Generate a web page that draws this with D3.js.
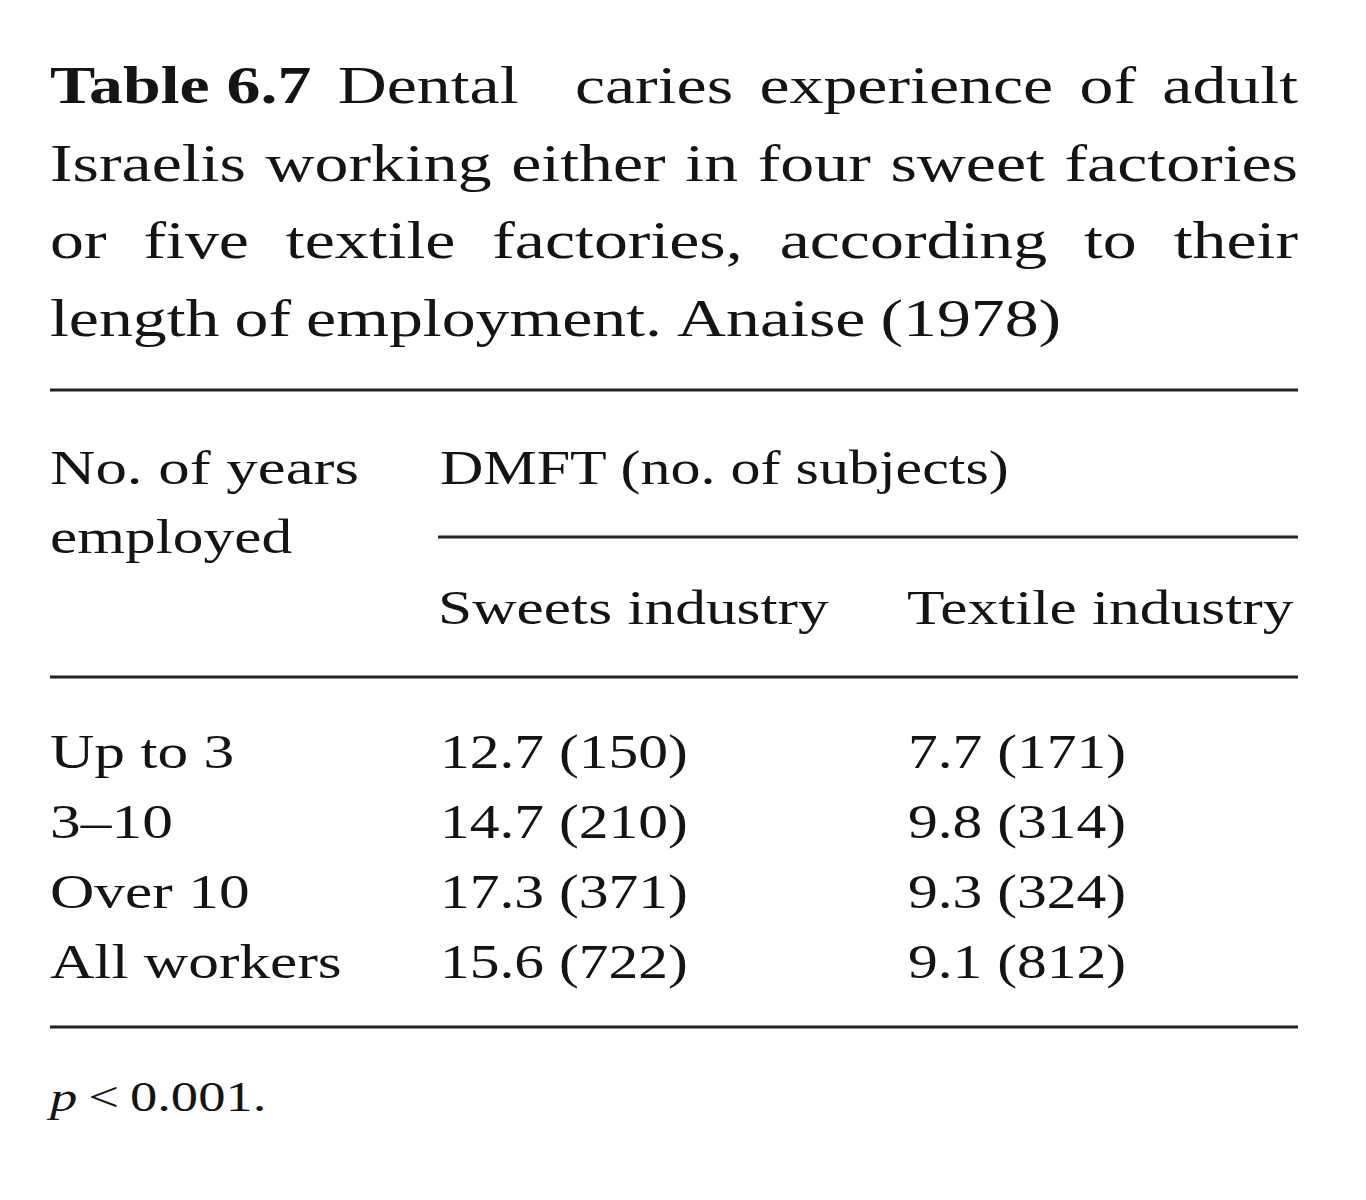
<!DOCTYPE html>
<html><head><meta charset="utf-8">
<script src="https://cdn.jsdelivr.net/npm/d3@7"></script>
<style>body{margin:0;background:#fff}svg{display:block}</style>
</head><body>
<script>
const titleLines = [
  ["Table 6.7", "Dental caries experience of adult"],
  ["", "Israelis working either in four sweet factories"],
  ["", "or five textile factories, according to their"],
  ["", "length of employment. Anaise (1978)"]
];
const rowLabels = ["Up to 3", "3\u201310", "Over 10", "All workers"];
const sweetsDMFT = ["12.7", "14.7", "17.3", "15.6"];
const sweetsN = [150, 210, 371, 722];
const textileDMFT = ["7.7", "9.8", "9.3", "9.1"];
const textileN = [171, 314, 324, 812];
const columns = ["Sweets industry", "Textile industry"];

const W = 1366, H = 1200, L = 50, R = 1298;
const svg = d3.select("body").append("svg").attr("width", W).attr("height", H);
const font = "'Liberation Serif', 'DejaVu Serif', serif";
const col = "#141414";
const SX = 1.28;

function txt(x, y, s, size = 48, sx = SX, bold = false) {
  return svg.append("text").attr("transform", `translate(${x},${y}) scale(${sx},1)`)
    .attr("font-family", font).attr("font-size", size)
    .attr("font-weight", bold ? "bold" : "normal").attr("fill", col).text(s);
}

// Title, justified
const titleY = d3.scaleLinear().domain([0, 3]).range([103, 336]);
titleLines.forEach((ln, i) => {
  const y = titleY(i);
  let words = [];
  if (ln[0]) words.push({t: ln[0], b: true});
  ln[1].split(" ").forEach(w => words.push({t: w, b: false}));
  const nodes = words.map(w => txt(0, y, w.t, 53, SX, w.b));
  const widths = nodes.map(n => n.node().getComputedTextLength() * SX);
  const total = d3.sum(widths);
  const extra = i === 0 ? 30 : 0;
  const gap = i < 3 ? (R - L - total - extra) / (words.length - 1) : 15;
  let x = L;
  nodes.forEach((n, k) => {
    n.attr("transform", `translate(${x},${y}) scale(${SX},1)`);
    x += widths[k] + gap + (i === 0 && k === 1 ? extra : 0);
  });
});

function rule(x1, x2, y) {
  svg.append("line").attr("x1", x1).attr("x2", x2).attr("y1", y).attr("y2", y)
    .attr("stroke", "#222").attr("stroke-width", 3);
}
rule(L, R, 390); rule(438, R, 537); rule(L, R, 677); rule(L, R, 1027);

txt(L, 484, "No. of years", 48, 1.31);
txt(L, 553, "employed");
txt(440, 484, "DMFT (no. of subjects)", 48, 1.25);
const colX = d3.scaleOrdinal().domain(columns).range([438, 907]);
columns.forEach(c => txt(colX(c), 624, c));

const rowY = d3.scalePoint().domain(rowLabels).range([768, 978]);
rowLabels.forEach((r, i) => {
  txt(L, rowY(r), r);
  txt(colX(columns[0]) + 2, rowY(r), `${sweetsDMFT[i]} (${sweetsN[i]})`, 48, 1.24);
  txt(colX(columns[1]) + 1, rowY(r), `${textileDMFT[i]} (${textileN[i]})`, 48, 1.24);
});

const f = svg.append("text").attr("transform", `translate(${L},1111) scale(1.3,1)`)
  .attr("font-family", font).attr("font-size", 42).attr("fill", col);
f.append("tspan").attr("font-style", "italic").text("p");
f.append("tspan").text("\u2009<\u20090.001.");
</script>
</body></html>
